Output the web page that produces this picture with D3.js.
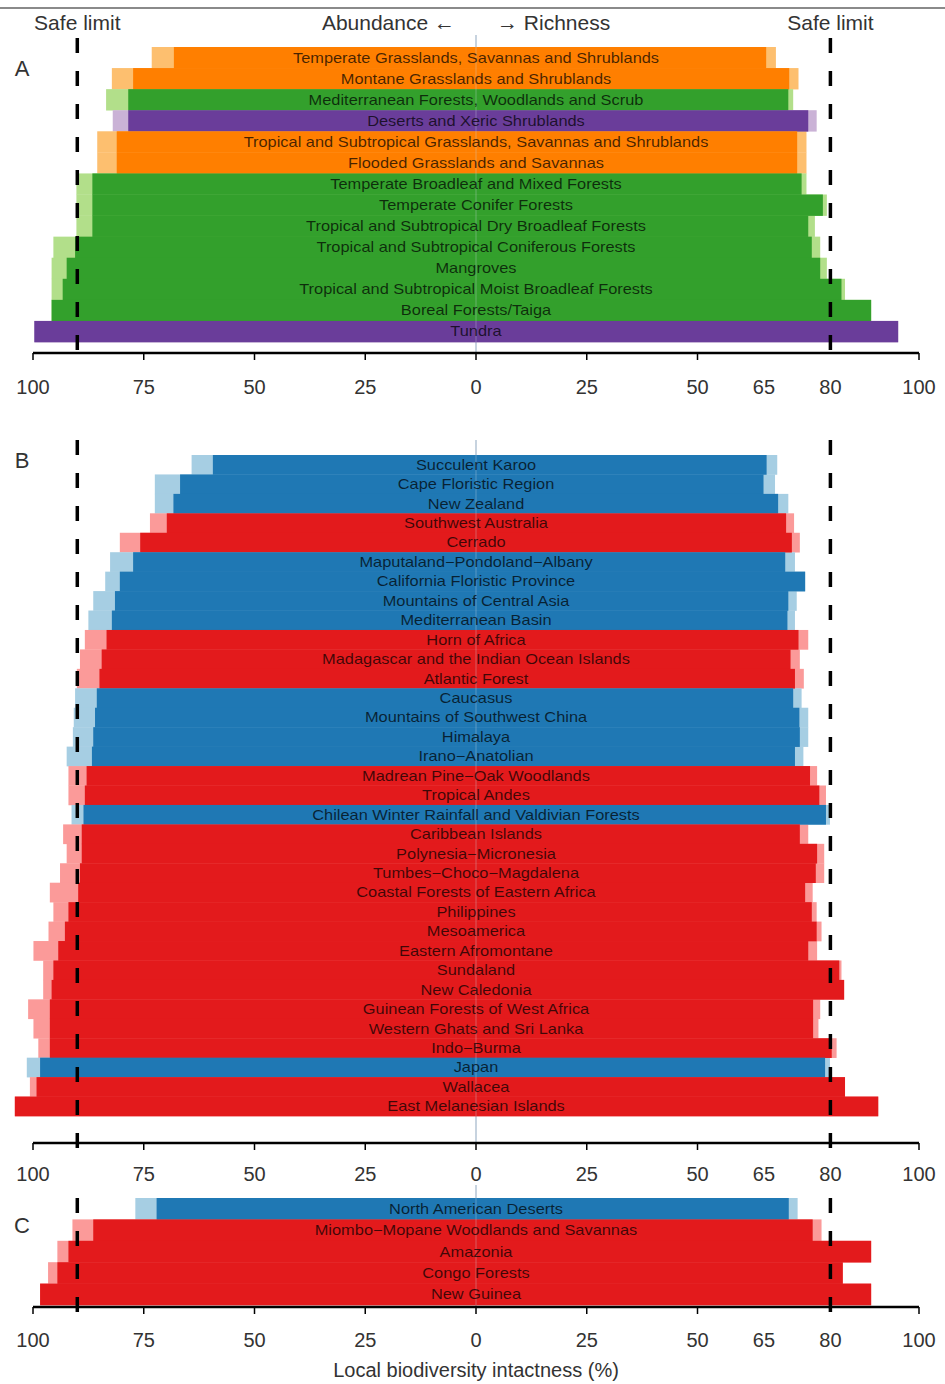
<!DOCTYPE html>
<html>
<head>
<meta charset="utf-8">
<script src="https://cdnjs.cloudflare.com/ajax/libs/d3/7.8.5/d3.min.js"></script>
<style>
  body { margin: 0; background: #fff; }
  svg { font-family: "Liberation Sans", Arial, sans-serif; }
</style>
</head>
<body>
<div id="myDiv"></div>
<script>
//Panel A - biomes
var biomeNames = ["Temperate Grasslands, Savannas and Shrublands", "Montane Grasslands and Shrublands",
  "Mediterranean Forests, Woodlands and Scrub", "Deserts and Xeric Shrublands",
  "Tropical and Subtropical Grasslands, Savannas and Shrublands", "Flooded Grasslands and Savannas",
  "Temperate Broadleaf and Mixed Forests", "Temperate Conifer Forests",
  "Tropical and Subtropical Dry Broadleaf Forests", "Tropical and Subtropical Coniferous Forests",
  "Mangroves", "Tropical and Subtropical Moist Broadleaf Forests", "Boreal Forests/Taiga", "Tundra"];
var biomeType = ["grass", "grass", "forest", "desert", "grass", "grass", "forest", "forest",
  "forest", "forest", "forest", "forest", "forest", "desert"];
var biomeAbund = [68.2, 77.4, 78.5, 78.5, 81.1, 81.1, 86.6, 86.6, 86.6, 90.5, 92.4, 93.3, 95.8, 99.7];
var biomeAbundHi = [73.2, 82.2, 83.5, 82.0, 85.5, 85.5, 90.2, 90.2, 90.2, 95.4, 95.8, 95.8, 95.8, 99.7];
var biomeRich = [65.5, 70.7, 70.5, 75.0, 72.5, 72.5, 73.5, 78.3, 75.0, 75.8, 77.7, 82.5, 89.2, 95.3];
var biomeRichHi = [67.7, 72.8, 71.6, 76.9, 74.6, 74.6, 74.6, 79.2, 76.5, 77.7, 79.2, 83.3, 89.2, 95.3];

//Panel B - hotspots
var hotNames = ["Succulent Karoo", "Cape Floristic Region", "New Zealand", "Southwest Australia", "Cerrado",
  "Maputaland−Pondoland−Albany", "California Floristic Province", "Mountains of Central Asia",
  "Mediterranean Basin", "Horn of Africa", "Madagascar and the Indian Ocean Islands", "Atlantic Forest",
  "Caucasus", "Mountains of Southwest China", "Himalaya", "Irano−Anatolian", "Madrean Pine−Oak Woodlands",
  "Tropical Andes", "Chilean Winter Rainfall and Valdivian Forests", "Caribbean Islands",
  "Polynesia−Micronesia", "Tumbes−Choco−Magdalena", "Coastal Forests of Eastern Africa", "Philippines",
  "Mesoamerica", "Eastern Afromontane", "Sundaland", "New Caledonia", "Guinean Forests of West Africa",
  "Western Ghats and Sri Lanka", "Indo−Burma", "Japan", "Wallacea", "East Melanesian Islands"];
var hotType = ["blue", "blue", "blue", "red", "red", "blue", "blue", "blue", "blue", "red", "red", "red",
  "blue", "blue", "blue", "blue", "red", "red", "blue", "red", "red", "red", "red", "red", "red", "red",
  "red", "red", "red", "red", "red", "blue", "red", "red"];
var hotAbund = [59.4, 66.8, 68.3, 69.8, 75.8, 77.4, 80.4, 81.5, 82.2, 83.4, 84.5, 85.0, 85.6, 86.0, 86.4,
  86.7, 87.9, 88.3, 88.6, 89.0, 89.0, 89.4, 89.8, 92.0, 92.8, 94.3, 95.4, 95.8, 96.2, 96.2, 96.2, 98.4, 99.2, 104.1];
var hotAbundHi = [64.2, 72.5, 72.5, 73.6, 80.4, 82.6, 83.7, 86.4, 87.5, 88.3, 89.4, 90.1, 90.5, 90.8, 91.0,
  92.4, 92.0, 92.0, 91.3, 93.2, 92.4, 93.9, 96.2, 95.4, 96.5, 99.9, 97.7, 97.7, 101.1, 99.9, 98.8, 101.4, 100.7, 104.1];
var hotRich = [65.6, 64.9, 68.2, 70.0, 71.3, 69.8, 74.3, 70.5, 70.3, 72.8, 71.0, 72.0, 71.6, 73.0, 73.1,
  72.0, 75.4, 77.5, 79.0, 73.1, 77.0, 76.7, 74.3, 75.8, 76.9, 75.0, 82.0, 83.1, 76.1, 76.1, 80.3, 78.8, 83.3, 90.8];
var hotRichHi = [68.0, 67.5, 70.5, 71.8, 73.1, 72.0, 74.3, 72.4, 72.0, 75.0, 73.1, 74.0, 73.5, 75.0, 75.0,
  73.9, 77.0, 79.0, 79.9, 75.0, 78.6, 78.6, 76.0, 76.9, 78.0, 77.0, 82.5, 83.1, 77.7, 77.3, 81.4, 79.9, 83.3, 90.8];

//Panel C - wilderness areas
var wildNames = ["North American Deserts", "Miombo−Mopane Woodlands and Savannas", "Amazonia", "Congo Forests", "New Guinea"];
var wildType = ["blue", "red", "red", "red", "red"];
var wildAbund = [72.1, 86.4, 92.0, 94.5, 98.4];
var wildAbundHi = [76.9, 91.1, 94.5, 96.6, 98.4];
var wildRich = [70.6, 76.0, 89.2, 82.8, 89.2];
var wildRichHi = [72.6, 78.0, 89.2, 82.8, 89.2];

//Axis ticks
var leftTicks = [0, 25, 50, 75, 100];
var rightTicks = [25, 50, 65, 80, 100];
var rightTickMarks = [25, 50, 100];
var safeAbund = 90;
var safeRich = 80;

var colors = {
  grass: ["#ff7f00", "#fdbf6f"],
  forest: ["#33a02c", "#b2df8a"],
  desert: ["#6a3d9a", "#cab2d6"],
  blue: ["#1f78b4", "#a6cee3"],
  red: ["#e31a1c", "#fb9a99"]
};

var w = 945;
var h = 1384;
var cx = 476;

var svg = d3.select("#myDiv")
  .append("svg")
  .attr("width", w)
  .attr("height", h);

var xL = d3.scaleLinear().domain([0, 100]).range([cx, 33]);
var xR = d3.scaleLinear().domain([0, 100]).range([cx, 919]);

//Header
svg.append("line").attr("x1", 0).attr("x2", w).attr("y1", 8).attr("y2", 8)
  .attr("stroke", "#8a8a8a").attr("stroke-width", 2);
var header = [["Safe limit", xL(safeAbund), "middle"], ["Abundance ←", 455, "end"],
  ["→ Richness", 497, "start"], ["Safe limit", xR(safeRich), "middle"]];
svg.selectAll("text.head")
  .data(header)
  .enter()
  .append("text")
  .attr("class", "head")
  .attr("x", function(d) { return d[1]; })
  .attr("y", 30)
  .attr("text-anchor", function(d) { return d[2]; })
  .attr("font-size", 21)
  .attr("fill", "#333")
  .text(function(d) { return d[0]; });

function drawPanel(letter, letterY, names, types, abund, abundHi, rich, richHi, top, bottom, axisY, lineTop, dashTop, dashBottom, tickY) {
  var rows = names.map(function(n, i) {
    return { name: n, type: types[i], a: abund[i], aHi: abundHi[i], r: rich[i], rHi: richHi[i] };
  });
  var y = d3.scaleBand().domain(names).range([top, bottom]).padding(0);
  var g = svg.append("g");

  //Centre line, behind the bars
  g.append("line").attr("x1", cx).attr("x2", cx).attr("y1", lineTop).attr("y2", axisY)
    .attr("stroke", "#b4c4d4").attr("stroke-width", 1.5);

  //Light bars first, dark bars on top
  g.selectAll("rect.light")
    .data(rows)
    .enter()
    .append("rect")
    .attr("x", function(d) { return xL(d.aHi); })
    .attr("y", function(d) { return y(d.name); })
    .attr("width", function(d) { return xR(d.rHi) - xL(d.aHi); })
    .attr("height", y.bandwidth() + 0.3)
    .attr("fill", function(d) { return colors[d.type][1]; });

  g.selectAll("rect.dark")
    .data(rows)
    .enter()
    .append("rect")
    .attr("x", function(d) { return xL(d.a); })
    .attr("y", function(d) { return y(d.name); })
    .attr("width", function(d) { return xR(d.r) - xL(d.a); })
    .attr("height", y.bandwidth() + 0.3)
    .attr("fill", function(d) { return colors[d.type][0]; });

  //Faint trace of the centre line over the bars
  g.append("line").attr("x1", cx).attr("x2", cx).attr("y1", top).attr("y2", bottom)
    .attr("stroke", "#c8d4e0").attr("stroke-opacity", 0.35).attr("stroke-width", 1);

  g.selectAll("text.lab")
    .data(rows)
    .enter()
    .append("text")
    .attr("transform", function(d) {
      return "translate(" + cx + "," + (y(d.name) + y.bandwidth() / 2 + 5) + ") scale(1.13,1)";
    })
    .attr("text-anchor", "middle")
    .attr("font-size", 14.5)
    .attr("fill", "#000")
    .attr("fill-opacity", 0.72)
    .text(function(d) { return d.name; });

  //Safe limits
  [xL(safeAbund), xR(safeRich)].forEach(function(sx) {
    g.append("line").attr("x1", sx).attr("x2", sx).attr("y1", dashTop).attr("y2", dashBottom)
      .attr("stroke", "#000").attr("stroke-width", 3.5).attr("stroke-dasharray", "15,18");
  });

  //Axis line, ticks and labels
  g.append("line").attr("x1", xL(100)).attr("x2", xR(100)).attr("y1", axisY).attr("y2", axisY)
    .attr("stroke", "#000").attr("stroke-width", 2.5);
  var marks = leftTicks.map(function(t) { return xL(t); })
    .concat(rightTickMarks.map(function(t) { return xR(t); }));
  g.selectAll("line.tick")
    .data(marks)
    .enter()
    .append("line")
    .attr("x1", function(d) { return d; })
    .attr("x2", function(d) { return d; })
    .attr("y1", axisY)
    .attr("y2", axisY + 7)
    .attr("stroke", "#000")
    .attr("stroke-width", 1.5);
  var labels = leftTicks.map(function(t) { return [t, xL(t)]; })
    .concat(rightTicks.map(function(t) { return [t, xR(t)]; }));
  g.selectAll("text.tick")
    .data(labels)
    .enter()
    .append("text")
    .attr("x", function(d) { return d[1]; })
    .attr("y", tickY)
    .attr("text-anchor", "middle")
    .attr("font-size", 20)
    .attr("fill", "#333")
    .text(function(d) { return d[0]; });

  g.append("text").attr("x", 22).attr("y", letterY).attr("text-anchor", "middle")
    .attr("font-size", 22).attr("fill", "#333").text(letter);
}

drawPanel("A", 76, biomeNames, biomeType, biomeAbund, biomeAbundHi, biomeRich, biomeRichHi,
  47, 342, 353, 35, 38, 358, 394);
drawPanel("B", 468, hotNames, hotType, hotAbund, hotAbundHi, hotRich, hotRichHi,
  455, 1116, 1143, 440, 440, 1148, 1181);
drawPanel("C", 1233, wildNames, wildType, wildAbund, wildAbundHi, wildRich, wildRichHi,
  1198, 1305, 1307, 1185, 1198, 1313, 1347);

svg.append("text").attr("x", cx).attr("y", 1377).attr("text-anchor", "middle")
  .attr("font-size", 20).attr("fill", "#333").text("Local biodiversity intactness (%)");
</script>
</body>
</html>
